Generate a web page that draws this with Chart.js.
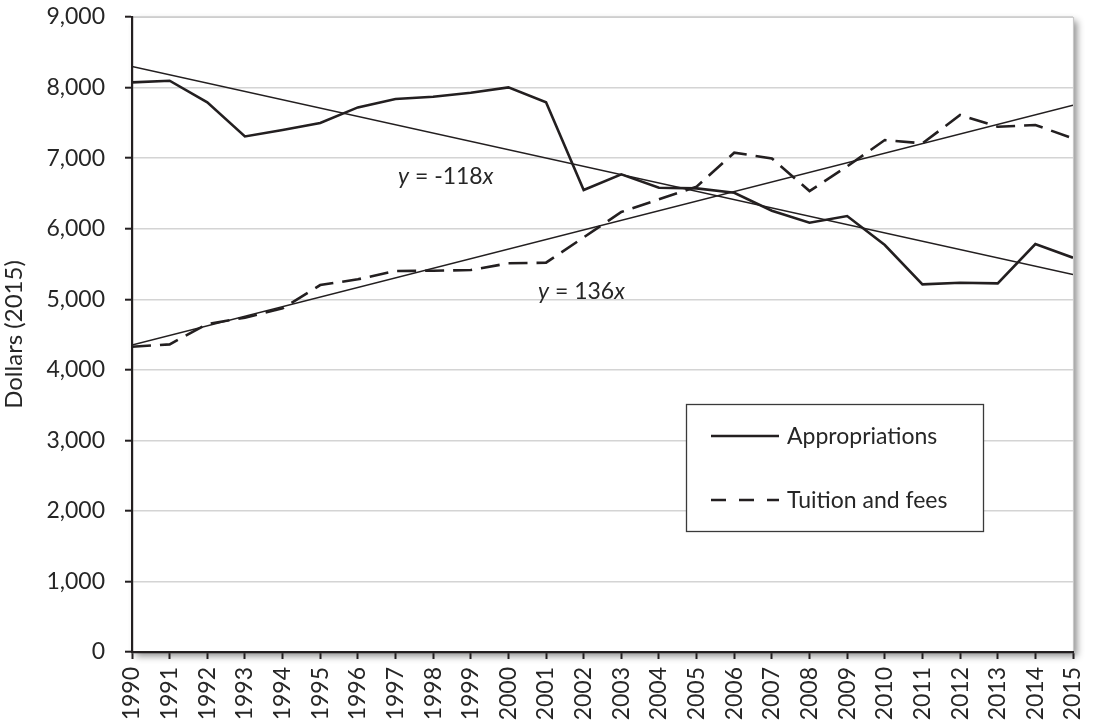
<!DOCTYPE html>
<html>
<head>
<meta charset="utf-8">
<script src="https://cdn.jsdelivr.net/npm/chart.js@4/dist/chart.umd.min.js"></script>
<style>
  html, body { margin: 0; padding: 0; background: #ffffff; }
  #wrap { width: 1101px; height: 727px; position: relative; }
</style>
</head>
<body>
<div id="wrap"><canvas id="c"></canvas></div>
<script>
// ---- data ----
const years = [1990, 1991, 1992, 1993, 1994, 1995, 1996, 1997, 1998, 1999, 2000, 2001, 2002,
               2003, 2004, 2005, 2006, 2007, 2008, 2009, 2010, 2011, 2012, 2013, 2014, 2015];
const appropriations = [8074, 8097, 7791, 7307, 7398, 7497, 7719, 7837, 7870, 7926, 8003, 7791, 6548,
                        6770, 6580, 6571, 6509, 6254, 6084, 6179, 5768, 5211, 5234, 5225, 5782, 5588];
const tuition = [4327, 4360, 4649, 4738, 4871, 5201, 5282, 5400, 5404, 5414, 5509, 5518, 5877,
                 6236, 6416, 6595, 7077, 6996, 6533, 6883, 7256, 7209, 7611, 7445, 7469, 7280];
const trendYears = [1990, 2015];
const appropTrend = [8300, 5350];
const tuitionTrend = [4350, 7750];
const yTickValues = [0, 1000, 2000, 3000, 4000, 5000, 6000, 7000, 8000, 9000];
const seriesLabels = ['Appropriations', 'Tuition and fees'];
const trendLabels = ['y = -118x', 'y = 136x'];
const yTitle = 'Dollars (2015)';

const INK = '#231f20';
const TXT = '#262626';

function pts(xs, ys) { return xs.map((x, i) => ({ x: x, y: ys[i] })); }

const fmt = v => v.toLocaleString('en-US');

// plot frame with shadow
const framePlugin = {
  id: 'frame',
  beforeDraw(chart) {
    const { ctx, chartArea: a } = chart;
    ctx.save();
    ctx.fillStyle = '#ffffff';
    ctx.fillRect(0, 0, chart.width, chart.height);
    ctx.shadowColor = 'rgba(0,0,0,0.45)';
    ctx.shadowBlur = 7;
    ctx.shadowOffsetX = 4;
    ctx.shadowOffsetY = 4;
    ctx.fillRect(a.left, a.top, a.right - a.left, a.bottom - a.top);
    ctx.restore();
    ctx.save();
    ctx.strokeStyle = '#c8c8c8';
    ctx.lineWidth = 1.2;
    ctx.beginPath();
    ctx.moveTo(a.left, a.top + 0.5);
    ctx.lineTo(a.right + 0.5, a.top + 0.5);
    ctx.lineTo(a.right + 0.5, a.bottom);
    ctx.stroke();
    ctx.restore();
  }
};

function drawRich(ctx, parts, x, y, size) {
  let cx = x;
  parts.forEach(p => {
    ctx.font = (p.it ? 'italic ' : '') + size + 'px Lato';
    ctx.fillText(p.t, cx, y);
    cx += ctx.measureText(p.t).width;
  });
}
function splitEq(s) {
  return [{ t: s[0], it: true }, { t: s.slice(1, -1), it: false }, { t: s.slice(-1), it: true }];
}

const overlayPlugin = {
  id: 'overlay',
  afterDatasetsDraw(chart) {
    const ctx = chart.ctx;
    ctx.save();
    ctx.fillStyle = TXT;
    ctx.textBaseline = 'alphabetic';
    ctx.textAlign = 'left';
    drawRich(ctx, splitEq(trendLabels[0]), 398, 184, 23);
    drawRich(ctx, splitEq(trendLabels[1]), 538, 299, 23);

    // legend box
    const bx = 686, by = 404, bw = 297, bh = 127;
    ctx.fillStyle = '#ffffff';
    ctx.fillRect(bx, by, bw, bh);
    ctx.strokeStyle = '#3a3a3a';
    ctx.lineWidth = 1.3;
    ctx.strokeRect(bx + 0.5, by + 0.5, bw, bh);

    ctx.strokeStyle = INK;
    ctx.lineWidth = 2.5;
    ctx.setLineDash([]);
    ctx.beginPath(); ctx.moveTo(711, 436); ctx.lineTo(779, 436); ctx.stroke();
    ctx.setLineDash([15, 13]);
    ctx.beginPath(); ctx.moveTo(711, 500); ctx.lineTo(779, 500); ctx.stroke();
    ctx.setLineDash([]);

    ctx.fillStyle = TXT;
    ctx.font = '23px Lato';
    ctx.textBaseline = 'middle';
    ctx.fillText(seriesLabels[0], 787, 437);
    ctx.fillText(seriesLabels[1], 787, 501);
    ctx.restore();
  }
};

new Chart(document.getElementById('c'), {
  type: 'line',
  data: {
    datasets: [
      { label: seriesLabels[0], data: pts(years, appropriations), borderColor: INK, borderWidth: 2.6,
        pointRadius: 0, tension: 0, fill: false },
      { label: seriesLabels[1], data: pts(years, tuition), borderColor: INK, borderWidth: 2.6,
        borderDash: [19, 9], pointRadius: 0, tension: 0, fill: false },
      { label: trendLabels[0], data: pts(trendYears, appropTrend), borderColor: INK, borderWidth: 1.5,
        pointRadius: 0, tension: 0, fill: false },
      { label: trendLabels[1], data: pts(trendYears, tuitionTrend), borderColor: INK, borderWidth: 1.5,
        pointRadius: 0, tension: 0, fill: false }
    ]
  },
  options: {
    responsive: true,
    maintainAspectRatio: false,
    animation: false,
    devicePixelRatio: 1,
    layout: { padding: { top: 17, right: 28, left: 0, bottom: 0 } },
    plugins: { legend: { display: false }, tooltip: { enabled: false } },
    scales: {
      x: {
        type: 'linear',
        min: years[0], max: years[years.length - 1],
        afterBuildTicks(s) { s.ticks = years.map(v => ({ value: v })); },
        afterFit(s) { s.height = 75; s.paddingLeft = 0; s.paddingRight = 0; },
        grid: { drawOnChartArea: false, drawTicks: true, tickLength: 7, tickColor: INK, tickWidth: 2 },
        border: { display: true, color: INK, width: 2.2 },
        ticks: {
          autoSkip: false, maxRotation: 90, minRotation: 90, padding: 8,
          color: TXT, font: { family: 'Lato', size: 23 },
          callback: v => String(v)
        }
      },
      y: {
        min: 0, max: 9000,
        afterBuildTicks(s) { s.ticks = yTickValues.map(v => ({ value: v })); },
        afterFit(s) { s.width = 132; s.paddingTop = 0; s.paddingBottom = 0; },
        grid: { color: '#d4d4d4', lineWidth: 1.4, drawTicks: true, tickLength: 7, tickColor: INK, tickWidth: 2 },
        border: { display: true, color: INK, width: 2.2 },
        ticks: { padding: 20, color: TXT, font: { family: 'Lato', size: 23 }, callback: v => fmt(v) },
        title: { display: true, text: yTitle, color: TXT, font: { family: 'Lato', size: 24 },
                 padding: { top: 0, bottom: 0 } }
      }
    }
  },
  plugins: [framePlugin, overlayPlugin]
});
</script>
</body>
</html>
